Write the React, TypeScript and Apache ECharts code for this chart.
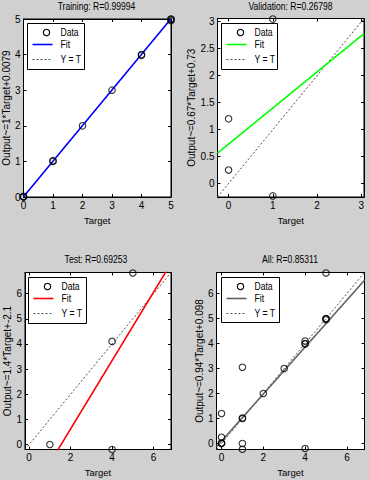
import React, { useEffect, useRef } from 'react';
import * as echarts from 'echarts';

// ---- data ----
const panelTitles = ['Training: R=0.99994', 'Validation: R=0.26798', 'Test: R=0.69253', 'All: R=0.85311'];
const yAxisNames = ['Output~=1*Target+0.0079', 'Output~=0.67*Target+0.73', 'Output~=1.4*Target+-2.1', 'Output~=0.94*Target+0.098'];
const xAxisName = 'Target';

const trainTargets = [0, 0, 0, 1, 1, 2, 3, 4, 4, 5, 5, 5];
const trainOutputs = [0, 0.02, 0.01, 1, 1.02, 2, 3, 4, 3.98, 5, 4.95, 4.99];
const valTargets = [0, 0, 1, 1];
const valOutputs = [1.2, 0.25, 3.05, -0.23];
const testTargets = [1, 4, 4, 5];
const testOutputs = [0, 4.1, -0.2, 6.82];
const allTargets = [...trainTargets, ...valTargets, ...testTargets];
const allOutputs = [...trainOutputs, ...valOutputs, ...testOutputs];

const fitSlopes = [1, 0.67, 1.36, 0.94];
const fitIntercepts = [0.0079, 0.73, -2.1, 0.098];

const axisMins = [0, -0.25, -0.2, -0.24];
const axisMaxs = [5, 3.06, 6.84, 6.84];
const xTickValues = [[0, 1, 2, 3, 4, 5], [0, 1, 2, 3], [0, 2, 4, 6], [0, 2, 4, 6]];
const yTickValues = [[0, 1, 2, 3, 4, 5], [0, 0.5, 1, 1.5, 2, 2.5, 3], [0, 1, 2, 3, 4, 5, 6], [0, 1, 2, 3, 4, 5, 6]];
const legendLabels = ['Data', 'Fit', 'Y = T'];

// ---- styles / layout ----
const fitColors = ['#0000ff', '#00ff00', '#ff0000', '#606060'];
const FONT = '"Liberation Sans", Arial, sans-serif';
const grids = [
  { left: 23.5, top: 19, width: 147.5, height: 178 },
  { left: 217.5, top: 18.5, width: 146.5, height: 178.5 },
  { left: 25, top: 272.5, width: 146, height: 177 },
  { left: 216.5, top: 272.5, width: 148, height: 177 },
];
const yNameGaps = [11, 21, 13, 12.5];
const titlePos = [[96.5, 7], [290.5, 7], [96, 260], [290, 260]];
const legendBoxes = [
  { x: 27.5, y: 23.5, w: 57, h: 46 },
  { x: 221.5, y: 23.5, w: 56, h: 46 },
  { x: 28.5, y: 277.5, w: 58, h: 46 },
  { x: 221.5, y: 277.5, w: 58, h: 45 },
];

const panelData = [
  [trainTargets, trainOutputs],
  [valTargets, valOutputs],
  [testTargets, testOutputs],
  [allTargets, allOutputs],
];

export default function App() {
  const ref = useRef<HTMLDivElement>(null);
  useEffect(() => {
    document.body.style.margin = '0';
    const chart = echarts.init(ref.current!, undefined, { renderer: 'svg' });
    const xAxis: any[] = [];
    const yAxis: any[] = [];
    const series: any[] = [];
    const graphic: any[] = [];
    const narrow = 0.86;
    for (let i = 0; i < 4; i++) {
      const mn = axisMins[i];
      const mx = axisMaxs[i];
      const baseAxis = {
        gridIndex: i,
        type: 'value',
        min: mn,
        max: mx,
        splitLine: { show: false },
        axisLine: { show: true, onZero: false, lineStyle: { color: '#000', width: 1 } },
      };
      xAxis.push({
        ...baseAxis,
        position: 'bottom',
        axisTick: { show: true, inside: true, length: 3, customValues: xTickValues[i], lineStyle: { color: '#000' } },
        axisLabel: { show: true, customValues: xTickValues[i], color: '#000', fontSize: 10, fontFamily: FONT, margin: 3 },
        name: xAxisName,
        nameLocation: 'middle',
        nameGap: 18,
        nameTextStyle: { color: '#000', fontSize: 9.5, fontFamily: FONT },
      });
      xAxis.push({
        ...baseAxis,
        position: 'top',
        axisTick: { show: true, inside: true, length: 3, customValues: xTickValues[i], lineStyle: { color: '#000' } },
        axisLabel: { show: false },
      });
      yAxis.push({
        ...baseAxis,
        position: 'left',
        axisTick: { show: true, inside: true, length: 3, customValues: yTickValues[i], lineStyle: { color: '#000' } },
        axisLabel: { show: true, customValues: yTickValues[i], color: '#000', fontSize: 10, fontFamily: FONT, margin: 3 },
        name: yAxisNames[i],
        nameLocation: 'middle',
        nameGap: yNameGaps[i],
        nameTextStyle: { color: '#000', fontSize: 10, fontFamily: FONT },
      });
      yAxis.push({
        ...baseAxis,
        position: 'right',
        axisTick: { show: true, inside: true, length: 3, customValues: yTickValues[i], lineStyle: { color: '#000' } },
        axisLabel: { show: false },
      });

      // Y = T line
      series.push({
        type: 'line',
        xAxisIndex: 2 * i,
        yAxisIndex: 2 * i,
        data: [[mn, mn], [mx, mx]],
        showSymbol: false,
        symbol: 'none',
        silent: true,
        clip: true,
        z: 2,
        lineStyle: { color: '#505050', width: 1, type: [2, 2] },
      });
      // Fit line
      const a = fitSlopes[i];
      const b = fitIntercepts[i];
      series.push({
        type: 'line',
        xAxisIndex: 2 * i,
        yAxisIndex: 2 * i,
        data: [[mn, a * mn + b], [mx, a * mx + b]],
        showSymbol: false,
        symbol: 'none',
        silent: true,
        clip: true,
        z: 3,
        lineStyle: { color: fitColors[i], width: 1.6 },
      });
      // Data circles
      const [ts, os] = panelData[i];
      series.push({
        type: 'scatter',
        xAxisIndex: 2 * i,
        yAxisIndex: 2 * i,
        data: ts.map((t, k) => [t, os[k]]),
        symbol: 'circle',
        symbolSize: 6.5,
        silent: true,
        clip: false,
        z: 4,
        itemStyle: { color: 'rgba(0,0,0,0)', borderColor: '#000', borderWidth: 1.1 },
      });

      // title
      graphic.push({
        type: 'text',
        x: titlePos[i][0],
        y: titlePos[i][1],
        scaleX: narrow,
        silent: true,
        style: { text: panelTitles[i], fontSize: 10, fontFamily: FONT, fill: '#000', align: 'center', verticalAlign: 'middle' },
      });
      // legend
      const L = legendBoxes[i];
      graphic.push({
        type: 'group',
        silent: true,
        z: 100,
        children: [
          { type: 'rect', shape: { x: L.x, y: L.y, width: L.w, height: L.h }, style: { fill: '#fff', stroke: '#000', lineWidth: 1 } },
          { type: 'circle', shape: { cx: L.x + 19, cy: L.y + 9, r: 3.2 }, style: { fill: 'none', stroke: '#000', lineWidth: 1.1 } },
          { type: 'text', x: L.x + 33, y: L.y + 9, scaleX: narrow, style: { text: legendLabels[0], fontSize: 10, fontFamily: FONT, fill: '#000', align: 'left', verticalAlign: 'middle' } },
          { type: 'line', shape: { x1: L.x + 5, y1: L.y + 21, x2: L.x + 25, y2: L.y + 21 }, style: { stroke: fitColors[i], lineWidth: 1.6 } },
          { type: 'text', x: L.x + 33, y: L.y + 21, scaleX: narrow, style: { text: legendLabels[1], fontSize: 10, fontFamily: FONT, fill: '#000', align: 'left', verticalAlign: 'middle' } },
          { type: 'line', shape: { x1: L.x + 5, y1: L.y + 36, x2: L.x + 25, y2: L.y + 36 }, style: { stroke: '#505050', lineWidth: 1, lineDash: [2, 2] } },
          { type: 'text', x: L.x + 33, y: L.y + 36, scaleX: narrow, style: { text: legendLabels[2], fontSize: 10, fontFamily: FONT, fill: '#000', align: 'left', verticalAlign: 'middle' } },
        ],
      });
    }
    chart.setOption({
      animation: false,
      backgroundColor: '#d0d0d0',
      grid: grids.map((g) => ({ ...g, show: true, backgroundColor: '#ffffff', borderColor: '#000', borderWidth: 1, containLabel: false })),
      xAxis,
      yAxis,
      series,
      graphic,
    });
    return () => chart.dispose();
  }, []);
  return <div ref={ref} style={{ width: 369, height: 480 }} />;
}
